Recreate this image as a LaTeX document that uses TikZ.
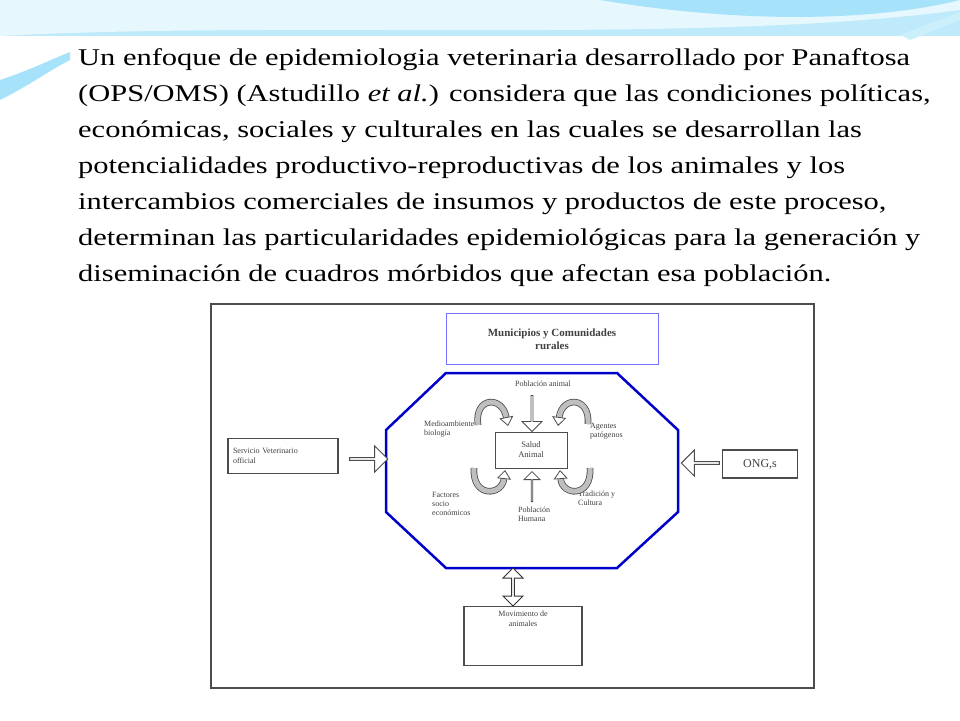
\documentclass[tikz,border=0pt]{standalone}
\usepackage{fontspec}
\setmainfont{Liberation Serif}
\newfontfamily\introfont[FakeStretch=1.27]{Liberation Serif}
\usetikzlibrary{arrows.meta,shapes.arrows}

\begin{document}
\begin{tikzpicture}[x=1pt,y=-1pt,
        box/.style={draw=black!70, line width=1.2pt, inner sep=0pt, text=black!75},
        lbl/.style={font=\fontsize{8}{9}\selectfont, text=black!75, align=left, anchor=north west, inner sep=0pt},
        hollow/.style={single arrow, draw=black!70, fill=white, line width=1pt, minimum height=38pt, minimum width=26pt, single arrow head extend=4pt, inner sep=0pt},
        swirl/.style={draw=black!70, line width=0.8pt, double=black!25, double distance=5pt, -{Triangle[open, length=9pt, width=14pt]}}]
    \useasboundingbox (0,0) rectangle (960,720);
    \fill[white] (0,0) rectangle (960,720);
    % background swooshes
    \fill[cyan!25] (0,0) rectangle (960,36);
    \fill[cyan!10] (0,36) .. controls (300,20) and (700,45) .. (960,10) -- (960,0) -- (0,0);
    \fill[cyan!35] (600,0) .. controls (750,25) and (880,20) .. (960,0);
    \fill[cyan!35] (0,80) .. controls (30,70) and (50,60) .. (70,52) -- (70,60) .. controls (50,70) and (30,85) .. (0,100);
    \fill[cyan!20] (900,35) -- (960,12) -- (960,20) -- (910,40);
    % text
    \node[anchor=north west, align=left, font=\introfont\fontsize{24}{36}\selectfont, inner sep=0pt] (intro) at (78,48)
        {Un enfoque de epidemiologia veterinaria desarrollado por Panaftosa\\
         (OPS/OMS) (Astudillo \textit{et al.}) considera que las condiciones políticas,\\
         económicas, sociales y culturales en las cuales se desarrollan las\\
         potencialidades productivo-reproductivas de los animales y los\\
         intercambios comerciales de insumos y productos de este proceso,\\
         determinan las particularidades epidemiológicas para la generación y\\
         diseminación de cuadros mórbidos que afectan esa población.};
    % diagram
    \fill[white] (186,296) rectangle (842,695);
    \draw[black!70, line width=1.2pt] (211,304) rectangle (814,688);
    \node[draw=blue!55, line width=1pt, minimum width=212pt, minimum height=51pt, align=center, font=\fontsize{11}{13}\selectfont\bfseries, text=black!75] (muni) at (552,339) {Municipios y Comunidades\\rurales};
    \draw[blue!80!black, line width=2.5pt] (446,373) -- (617,373) -- (678,430) -- (678,512) -- (617,568) -- (446,568) -- (386,512) -- (386,430) -- cycle;
    \node[box, line width=1pt, minimum width=72pt, minimum height=36pt, align=center, font=\fontsize{8.5}{10}\selectfont] (salud) at (531,450) {Salud\\Animal};
    \node[box, minimum width=110pt, minimum height=35pt, align=left, font=\fontsize{8}{10}\selectfont, text width=100pt] (servicio) at (283,456) {Servicio Veterinario\\official};
    \node[box, minimum width=75pt, minimum height=28pt, font=\fontsize{12}{13}\selectfont] (ong) at (760,464) {ONG,s};
    \node[box, minimum width=118pt, minimum height=59pt, font=\fontsize{8}{10}\selectfont, align=center, anchor=north, text depth=34pt] (movim) at (523,606) {Movimiento de\\animales};
    \node[hollow] (arrW) at (368,459) {};
    \node[hollow, shape border rotate=180] (arrE) at (701,463) {};
    \node[double arrow, draw=black!80, fill=white, line width=1pt, minimum height=38pt, minimum width=20pt, double arrow head extend=3pt, shape border rotate=90, inner sep=0pt] (arrS) at (513,587) {};
    \node[single arrow, draw=black!70, fill=white, line width=0.8pt, minimum height=36pt, minimum width=20pt, single arrow head extend=4pt, shape border rotate=270, inner sep=0pt] (arrN) at (532,413) {};
    \node[single arrow, draw=black!70, fill=white, line width=0.8pt, minimum height=30pt, minimum width=16pt, single arrow head extend=4pt, shape border rotate=90, inner sep=0pt] (arrU) at (532,487) {};
    % labels
    \node[lbl, anchor=north] (pobA) at (543,381) {Población animal};
    \node[lbl] (medio) at (424,421) {Medioambiente\\biología};
    \node[lbl] (agentes) at (590,423) {Agentes\\patógenos};
    \node[lbl] (factores) at (432,492) {Factores\\socio\\económicos};
    \node[lbl] (pobH) at (518,507) {Población\\Humana};
    \node[lbl] (trad) at (578,491) {Tradición y\\Cultura};
    % curved arrows
    \draw[swirl] (478,425) .. controls (474,397) and (502,395) .. (508,426);
    \draw[swirl] (588,424) .. controls (590,396) and (562,396) .. (558,426);
    \draw[swirl] (474,468) .. controls (472,498) and (502,496) .. (505,470);
    \draw[swirl] (590,468) .. controls (592,498) and (562,496) .. (560,470);
\end{tikzpicture}
\end{document}
